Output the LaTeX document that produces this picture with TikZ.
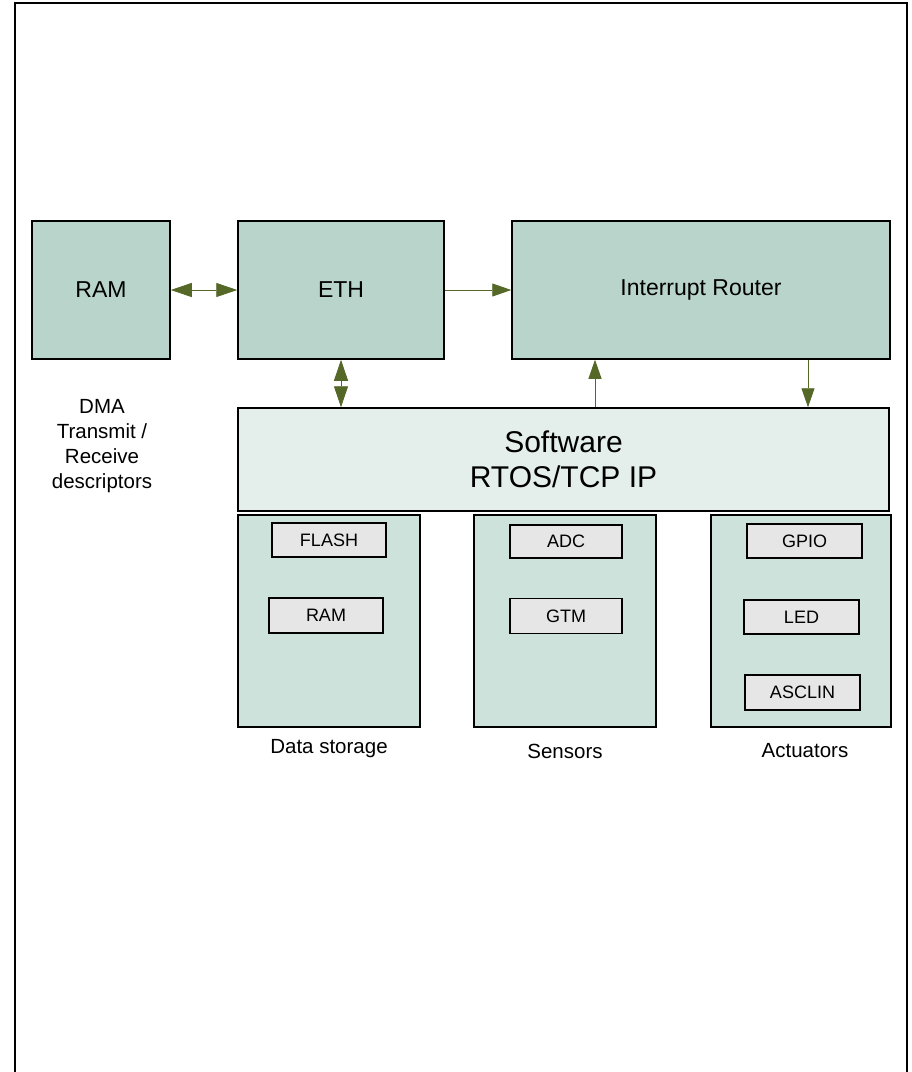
\documentclass[tikz,border=0pt]{standalone}
\usepackage{fontspec}
\setmainfont{Liberation Sans}
\usetikzlibrary{arrows.meta}
\definecolor{bigfill}{RGB}{184,212,203}
\definecolor{swfill}{RGB}{228,239,236}
\definecolor{grpfill}{RGB}{205,226,218}
\definecolor{innerfill}{RGB}{230,230,230}
\definecolor{arrowcol}{RGB}{85,104,40}
\tikzset{
  bigbox/.style={draw=black, line width=1.5pt, fill=bigfill, inner sep=0pt,
    font=\fontsize{23}{27}\selectfont},
  swbox/.style={draw=black, line width=1.5pt, fill=swfill, inner sep=0pt, align=center,
    font=\fontsize{30}{35}\selectfont},
  grpbox/.style={draw=black, line width=1.5pt, fill=grpfill, inner sep=0pt},
  innerbox/.style={draw=black, line width=1.4pt, fill=innerfill, inner sep=0pt,
    font=\fontsize{18}{20}\selectfont},
  lbl/.style={inner sep=0pt, align=center, font=\fontsize{20.5}{25}\selectfont},
  conn/.style={draw=arrowcol, line width=0.9pt},
  tipA/.style={-{Triangle[length=19pt,width=13pt]}},
  tipB/.style={{Triangle[length=21pt,width=14pt]}-{Triangle[length=21pt,width=14pt]}},
}
\begin{document}
\begin{tikzpicture}[x=1pt,y=-1pt]
\useasboundingbox (0,0) rectangle (912,1072);
\fill[white] (0,0) rectangle (912,1072);
% outer frame (open at bottom)
\draw[line width=2pt] (15,1072) -- (15,3) -- (907,3) -- (907,1072);

% top row
\node[bigbox, minimum width=138pt, minimum height=138pt] (ram) at (101,290) {RAM};
\node[bigbox, minimum width=206pt, minimum height=138pt] (eth) at (341,290) {ETH};
\node[bigbox, minimum width=378pt, minimum height=138pt] (ir) at (701,290) {Interrupt Router};

% software
\node[swbox, minimum width=651pt, minimum height=103pt] (sw) at (563.5,459.5) {Software\\RTOS/TCP IP};

% DMA text
\node[lbl] (dma) at (102,446) {DMA\\Transmit /\\Receive\\descriptors};

% groups
\node[grpbox, minimum width=182pt, minimum height=212pt] (ds) at (329,621) {};
\node[grpbox, minimum width=182pt, minimum height=212pt] (sen) at (565,621) {};
\node[grpbox, minimum width=180pt, minimum height=212pt] (act) at (801,621) {};

% inner boxes
\node[innerbox, minimum width=114pt, minimum height=34pt] (flash) at (329,540) {FLASH};
\node[innerbox, minimum width=114pt, minimum height=35pt] (ram2) at (326,615.5) {RAM};
\node[innerbox, minimum width=112pt, minimum height=33pt] (adc) at (566,541.5) {ADC};
\node[innerbox, minimum width=112pt, minimum height=35pt] (gtm) at (566,616) {GTM};
\node[innerbox, minimum width=115pt, minimum height=34pt] (gpio) at (804.5,541) {GPIO};
\node[innerbox, minimum width=115pt, minimum height=34pt] (led) at (801.5,617) {LED};
\node[innerbox, minimum width=115pt, minimum height=35pt] (asclin) at (802.5,692.5) {ASCLIN};

% group labels
\node[lbl] (dsl) at (329,749) {Data storage};
\node[lbl] (senl) at (565,751) {Sensors};
\node[lbl] (actl) at (805,751) {Actuators};

% connectors
\coordinate (upx) at (595,0);
\coordinate (dnx) at (808,0);
\draw[conn, tipB] (ram.east) -- (eth.west);
\draw[conn, tipA] (eth.east) -- (eth.east -| ir.west);
\draw[conn, tipB] (eth.south) -- (eth.south |- sw.north);
\draw[conn, tipA] (upx |- sw.north) -- (upx |- ir.south);
\draw[conn, tipA] (dnx |- ir.south) -- (dnx |- sw.north);
\end{tikzpicture}
\end{document}
